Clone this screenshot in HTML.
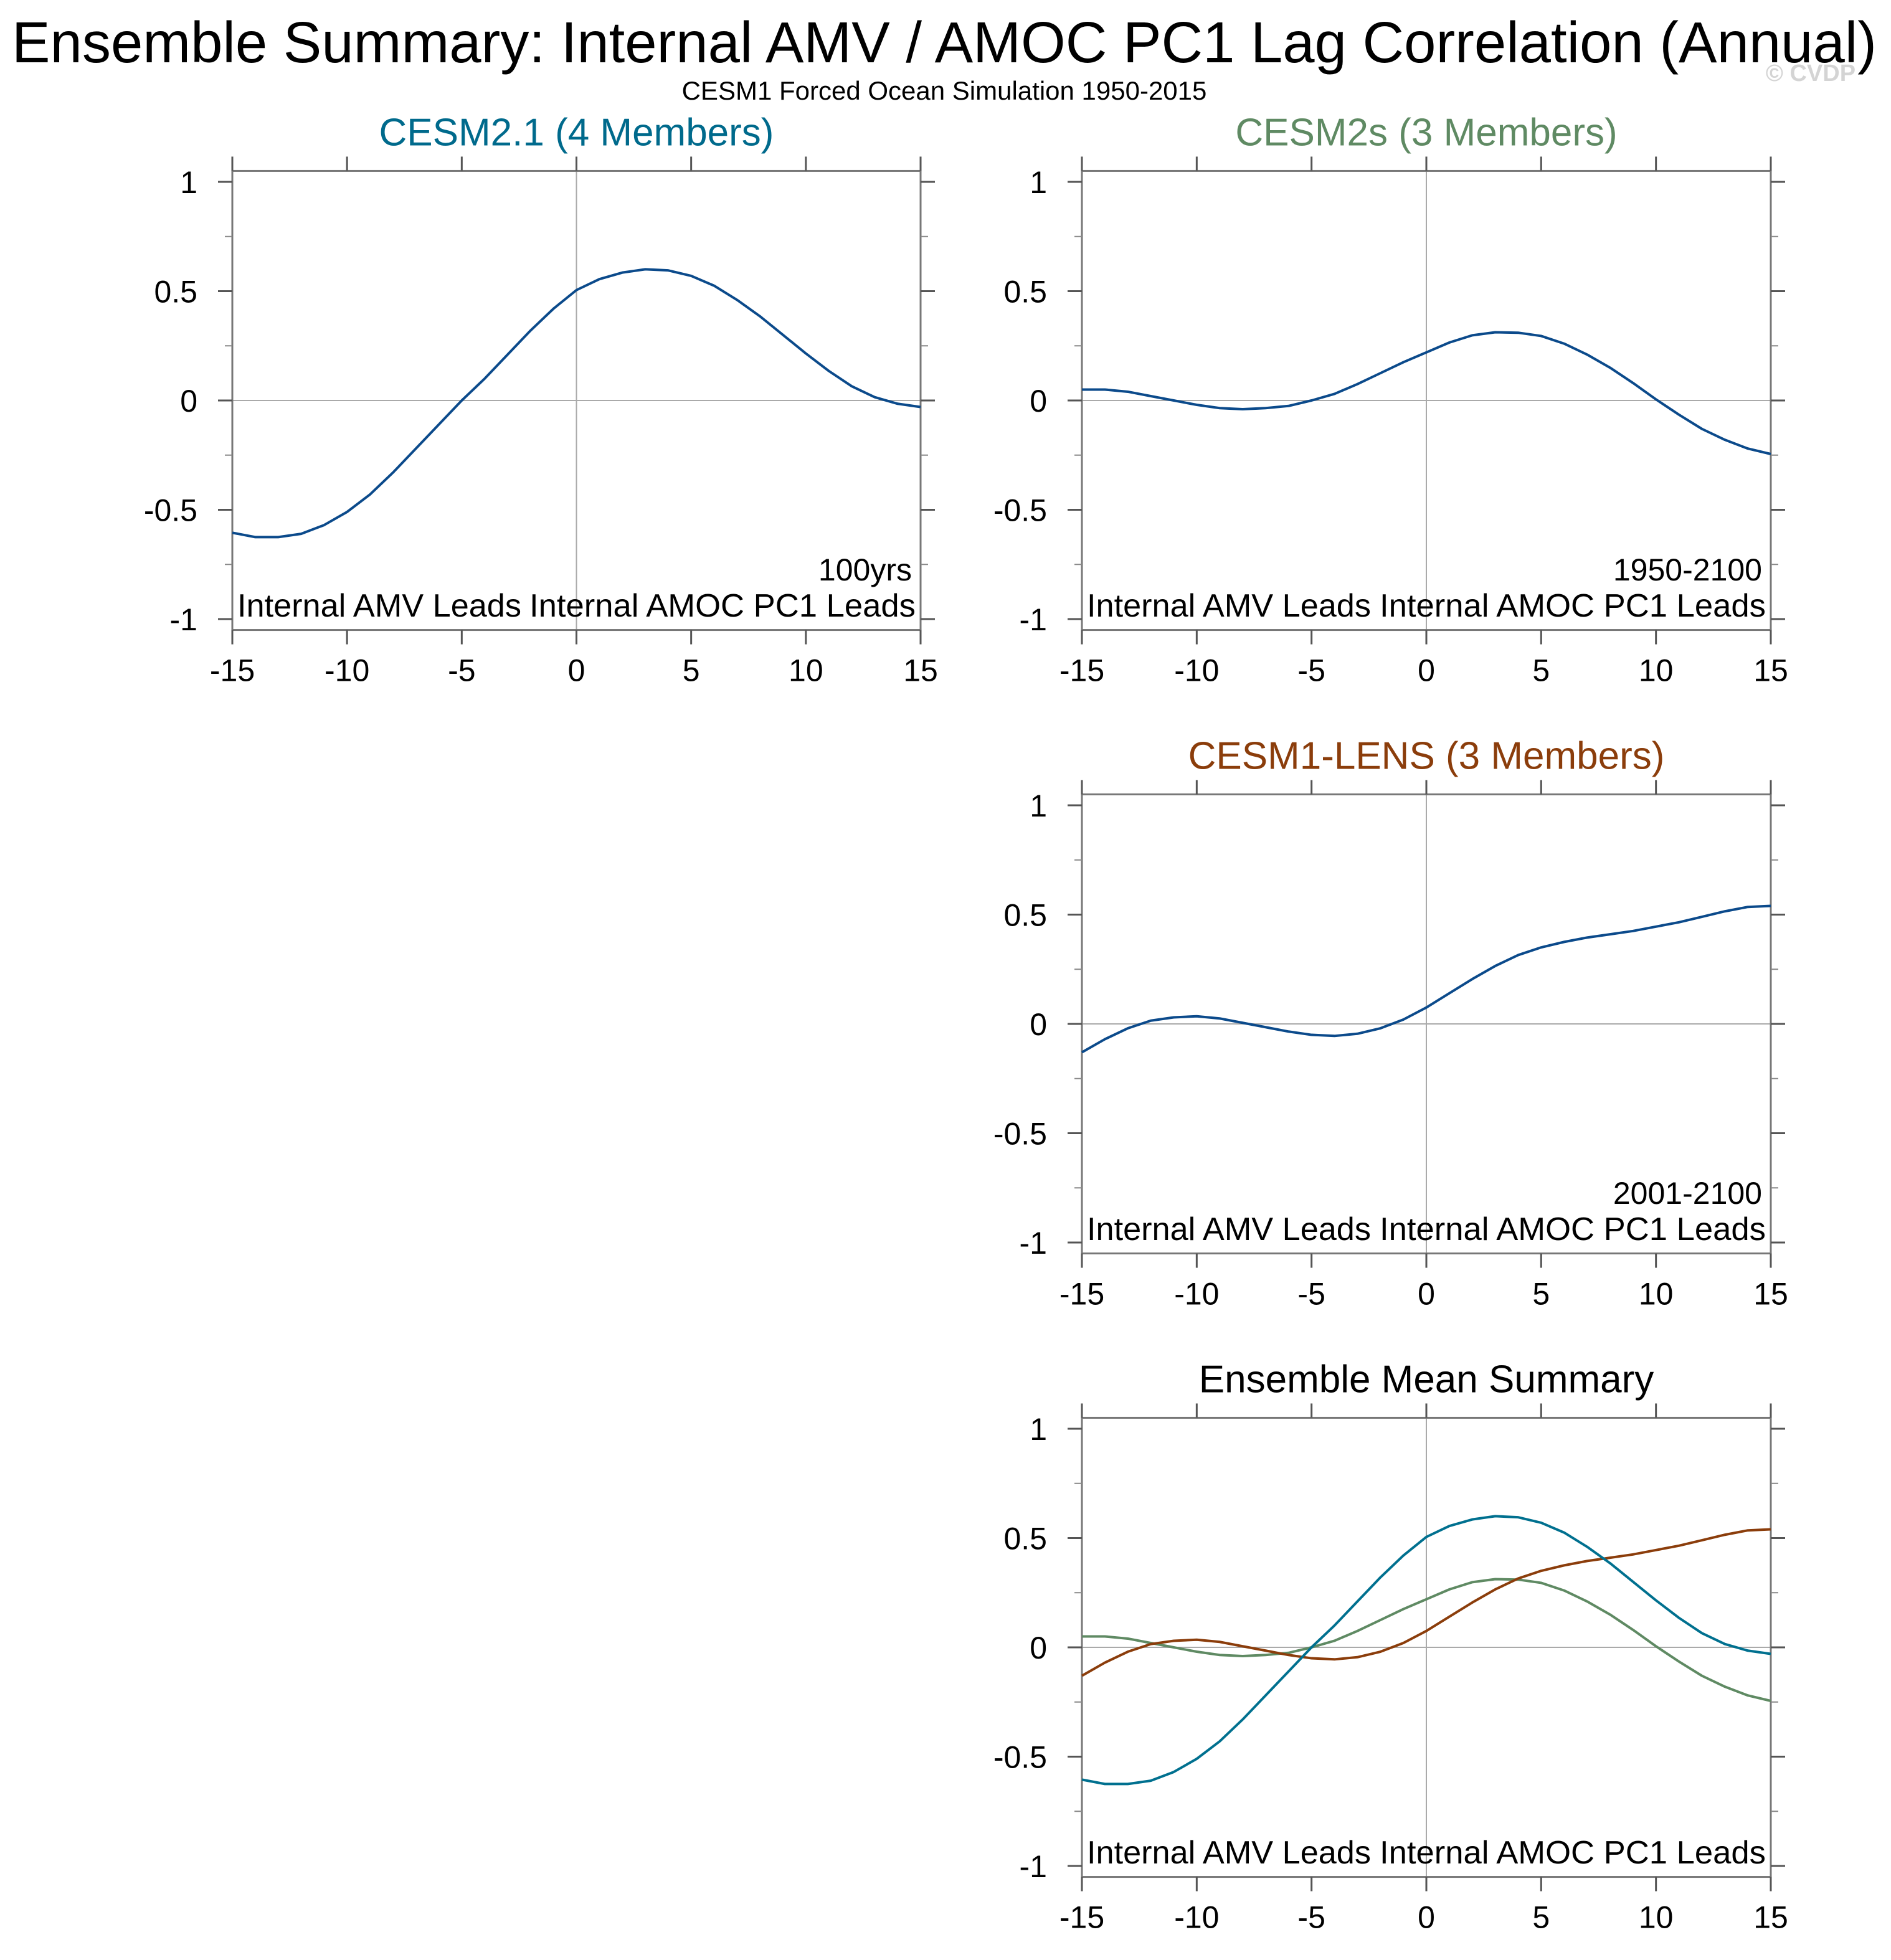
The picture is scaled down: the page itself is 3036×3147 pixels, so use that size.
<!DOCTYPE html>
<html><head><meta charset="utf-8"><style>
html,body{margin:0;padding:0;background:#fff}
svg{display:block}
text{font-family:"Liberation Sans",Arial,sans-serif}
</style></head><body>
<svg id="fig" width="3036" height="3147" viewBox="0 0 3036 3147" xmlns="http://www.w3.org/2000/svg">
<text x="1516" y="100" font-size="93" text-anchor="middle" textLength="2994" lengthAdjust="spacingAndGlyphs">Ensemble Summary: Internal AMV / AMOC PC1 Lag Correlation (Annual)</text>
<text x="1516" y="160" font-size="42" text-anchor="middle">CESM1 Forced Ocean Simulation 1950-2015</text>
<text x="2907" y="130" font-size="38" font-weight="bold" text-anchor="middle" fill="#d4d4d4">© CVDP</text>
</svg>
<script>
const lags = [-15,-14,-13,-12,-11,-10,-9,-8,-7,-6,-5,-4,-3,-2,-1,0,1,2,3,4,5,6,7,8,9,10,11,12,13,14,15];
const cesm21 = [-0.605,-0.625,-0.625,-0.61,-0.57,-0.51,-0.43,-0.33,-0.22,-0.11,0.0,0.1,0.21,0.32,0.42,0.505,0.555,0.585,0.6,0.595,0.57,0.525,0.46,0.385,0.3,0.215,0.135,0.065,0.015,-0.015,-0.03];
const cesm2s = [0.05,0.05,0.04,0.02,0.0,-0.02,-0.035,-0.04,-0.035,-0.025,0.0,0.03,0.075,0.125,0.175,0.22,0.265,0.298,0.312,0.31,0.295,0.26,0.21,0.15,0.08,0.005,-0.065,-0.13,-0.18,-0.22,-0.245];
const lens = [-0.13,-0.07,-0.02,0.015,0.03,0.035,0.025,0.005,-0.015,-0.035,-0.05,-0.055,-0.045,-0.02,0.02,0.075,0.14,0.205,0.265,0.315,0.35,0.375,0.395,0.41,0.425,0.445,0.465,0.49,0.515,0.535,0.54];
const xTicks = [-15,-10,-5,0,5,10,15];
const xTickLabels = ["-15","-10","-5","0","5","10","15"];
const yTicks = [1,0.5,0,-0.5,-1];
const yTickLabels = ["1","0.5","0","-0.5","-1"];
const yMinor = [0.75,0.25,-0.25,-0.75];

const NS="http://www.w3.org/2000/svg";
const svg=document.getElementById('fig');
function mk(tag,attrs,parent){const e=document.createElementNS(NS,tag);for(const k in attrs)e.setAttribute(k,attrs[k]);(parent||svg).appendChild(e);return e;}

function panel(x0,x1,y0,title,titleColor,key,series,period){
  const g=mk('g',{});
  
  
  const sx=v=>x0+(v+15)/30*(x1-x0);
  const sy=v=>y0-v*351;
  const top=sy(1.05),bot=sy(-1.05);
  const t=mk('text',{x:(x0+x1)/2,y:top-41,'font-size':62,'text-anchor':'middle',fill:titleColor},g);
  t.textContent=title;
  
  
  const zl=mk('line',{x1:x0,x2:x1,y1:sy(0),y2:sy(0),stroke:'#aaa','stroke-width':2},g);
  
  
  const vl=mk('line',{x1:sx(0),x2:sx(0),y1:top,y2:bot,stroke:'#aaa','stroke-width':2},g);
  
  
  const box=mk('rect',{x:x0,y:top,width:x1-x0,height:bot-top,fill:'none',stroke:'#777','stroke-width':3},g);
  
  
  xTicks.forEach((v,i)=>{
    mk('line',{x1:sx(v),x2:sx(v),y1:bot,y2:bot+23,stroke:'#555','stroke-width':3},g);
    mk('line',{x1:sx(v),x2:sx(v),y1:top,y2:top-23,stroke:'#555','stroke-width':3},g);
    const l=mk('text',{x:sx(v),y:bot+82,'font-size':50,'text-anchor':'middle'},g);
    l.textContent=xTickLabels[i];
    
    
  });
  yTicks.forEach((v,i)=>{
    mk('line',{x1:x0,x2:x0-23,y1:sy(v),y2:sy(v),stroke:'#555','stroke-width':3},g);
    mk('line',{x1:x1,x2:x1+23,y1:sy(v),y2:sy(v),stroke:'#555','stroke-width':3},g);
    const l=mk('text',{x:x0-56,y:sy(v)+18,'font-size':50,'text-anchor':'end'},g);
    l.textContent=yTickLabels[i];
    
    
  });
  yMinor.forEach(v=>{
    mk('line',{x1:x0,x2:x0-12,y1:sy(v),y2:sy(v),stroke:'#888','stroke-width':2},g);
    mk('line',{x1:x1,x2:x1+12,y1:sy(v),y2:sy(v),stroke:'#888','stroke-width':2},g);
  });
  series.forEach(s=>{
    const p=mk('polyline',{points:lags.map((l,i)=>sx(l)+','+sy(s.vals[i])).join(' '),fill:'none',stroke:s.color,'stroke-width':4,'stroke-linejoin':'round'},g);
    
    
  });
  const a=mk('text',{x:x0+8,y:sy(-1)-4,'font-size':52,textLength:456,lengthAdjust:'spacingAndGlyphs'},g);
  a.textContent='Internal AMV Leads';
  
  
  const b=mk('text',{x:x1-628,y:sy(-1)-4,'font-size':52,textLength:620,lengthAdjust:'spacingAndGlyphs'},g);
  b.textContent='Internal AMOC PC1 Leads';
  
  
  if(period){
    const pl=mk('text',{x:x1-14,y:sy(-1)-62,'font-size':50,'text-anchor':'end'},g);
    pl.textContent=period;
    
    
  }
}
const blue='#0b4a8b';
panel(373,1478,643,'CESM2.1 (4 Members)','#006a8c','cesm21',[{vals:cesm21,color:blue,name:'cesm21-line'}],'100yrs');
panel(1737,2843,643,'CESM2s (3 Members)','#5f8a63','cesm2s',[{vals:cesm2s,color:blue,name:'cesm2s-line'}],'1950-2100');
panel(1737,2843,1644,'CESM1-LENS (3 Members)','#8b3d0b','lens',[{vals:lens,color:blue,name:'lens-line'}],'2001-2100');
panel(1737,2843,2645,'Ensemble Mean Summary','#000','ensemble',[
  {vals:cesm2s,color:'#5f8a63',name:'cesm2s-mean-line'},
  {vals:lens,color:'#8b3d0b',name:'lens-mean-line'},
  {vals:cesm21,color:'#00708f',name:'cesm21-mean-line'}],null);
</script>
</body></html>
